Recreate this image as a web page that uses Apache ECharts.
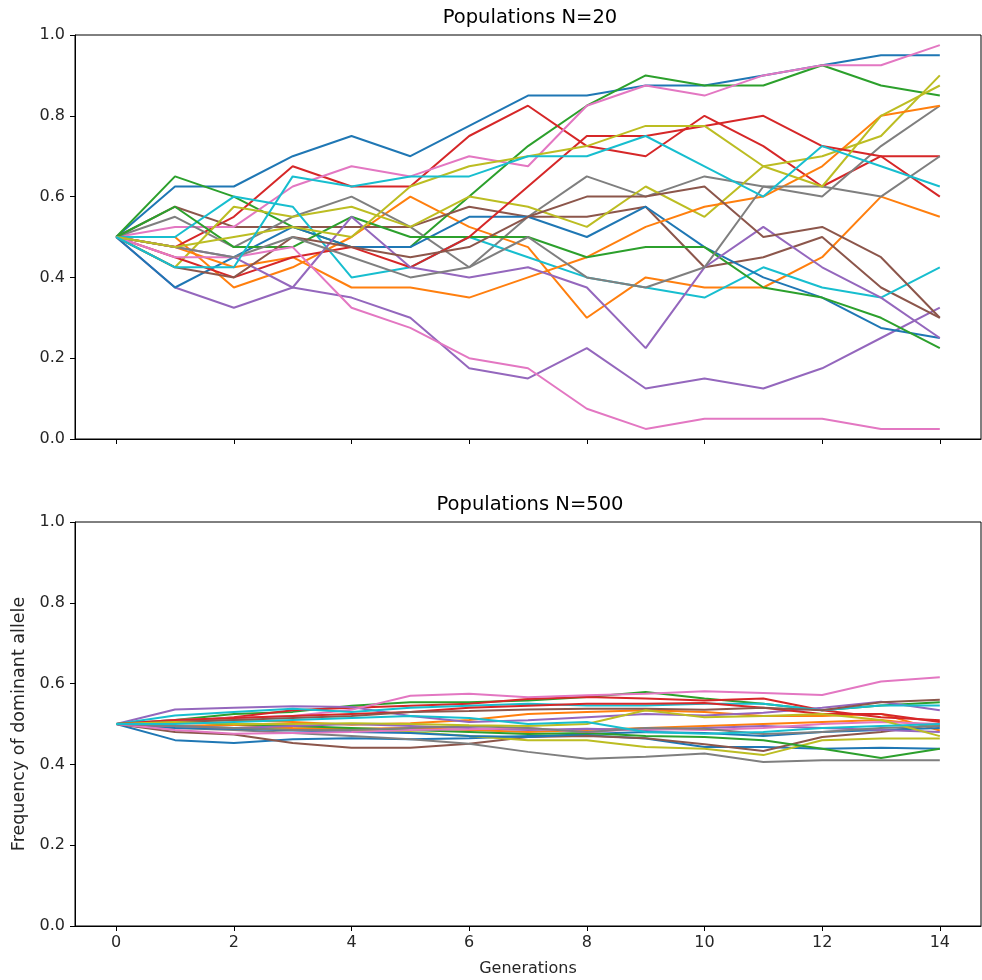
<!DOCTYPE html>
<html>
<head>
<meta charset="utf-8">
<script src="https://cdn.jsdelivr.net/npm/echarts@6/dist/echarts.min.js"></script>
<style>
  html, body { margin: 0; padding: 0; background: #fff; }
  #chart { width: 982px; height: 980px; }
</style>
</head>
<body>
<div id="chart"></div>
<script>
// generations on the x axis
const generations = [0, 1, 2, 3, 4, 5, 6, 7, 8, 9, 10, 11, 12, 13, 14];
const xTicks = [0, 2, 4, 6, 8, 10, 12, 14];
const titles = ['Populations N=20', 'Populations N=500'];

// tab10 colour cycle
const colors = ['#1f77b4', '#ff7f0e', '#2ca02c', '#d62728', '#9467bd',
                '#8c564b', '#e377c2', '#7f7f7f', '#bcbd22', '#17becf'];

// N=20 populations (allele frequency per generation)
const small = [
  [0.5,0.625,0.625,0.7,0.75,0.7,0.775,0.85,0.85,0.875,0.875,0.9,0.925,0.95,0.95],
  [0.5,0.5,0.375,0.425,0.5,0.6,0.525,0.475,0.3,0.4,0.375,0.375,0.45,0.6,0.55],
  [0.5,0.65,0.6,0.525,0.475,0.475,0.6,0.725,0.825,0.9,0.875,0.875,0.925,0.875,0.85],
  [0.5,0.475,0.55,0.675,0.625,0.625,0.75,0.825,0.725,0.7,0.8,0.725,0.625,0.7,0.7],
  [0.5,0.375,0.325,0.375,0.35,0.3,0.175,0.15,0.225,0.125,0.15,0.125,0.175,0.25,0.325],
  [0.5,0.575,0.525,0.525,0.525,0.525,0.575,0.55,0.55,0.575,0.425,0.45,0.5,0.375,0.3],
  [0.5,0.525,0.525,0.625,0.675,0.65,0.7,0.675,0.825,0.875,0.85,0.9,0.925,0.925,0.975],
  [0.5,0.55,0.475,0.55,0.6,0.525,0.425,0.55,0.65,0.6,0.65,0.625,0.6,0.725,0.825],
  [0.5,0.425,0.575,0.55,0.575,0.525,0.6,0.575,0.525,0.625,0.55,0.675,0.7,0.75,0.9],
  [0.5,0.5,0.6,0.575,0.4,0.425,0.5,0.45,0.4,0.375,0.35,0.425,0.375,0.35,0.425],
  [0.5,0.375,0.45,0.525,0.475,0.475,0.55,0.55,0.5,0.575,0.475,0.4,0.35,0.275,0.25],
  [0.5,0.475,0.425,0.45,0.375,0.375,0.35,0.4,0.45,0.525,0.575,0.6,0.675,0.8,0.825],
  [0.5,0.575,0.475,0.475,0.55,0.5,0.5,0.5,0.45,0.475,0.475,0.375,0.35,0.3,0.225],
  [0.5,0.45,0.4,0.45,0.475,0.425,0.5,0.625,0.75,0.75,0.775,0.8,0.725,0.7,0.6],
  [0.5,0.475,0.45,0.375,0.55,0.425,0.4,0.425,0.375,0.225,0.425,0.525,0.425,0.35,0.25],
  [0.5,0.425,0.4,0.5,0.475,0.45,0.475,0.55,0.6,0.6,0.625,0.5,0.525,0.45,0.3],
  [0.5,0.45,0.45,0.475,0.325,0.275,0.2,0.175,0.075,0.025,0.05,0.05,0.05,0.025,0.025],
  [0.5,0.475,0.45,0.5,0.45,0.4,0.425,0.5,0.4,0.375,0.425,0.625,0.625,0.6,0.7],
  [0.5,0.475,0.5,0.525,0.5,0.625,0.675,0.7,0.725,0.775,0.775,0.675,0.625,0.8,0.875],
  [0.5,0.425,0.425,0.65,0.625,0.65,0.65,0.7,0.7,0.75,0.675,0.6,0.725,0.675,0.625]
];

// N=500 populations
const large = [
  [0.5,0.46,0.453,0.462,0.465,0.462,0.465,0.47,0.472,0.464,0.443,0.443,0.439,0.441,0.439],
  [0.5,0.505,0.51,0.505,0.498,0.502,0.51,0.525,0.53,0.534,0.53,0.52,0.52,0.525,0.484],
  [0.5,0.51,0.525,0.53,0.545,0.554,0.554,0.558,0.567,0.579,0.563,0.55,0.534,0.546,0.554],
  [0.5,0.505,0.517,0.534,0.54,0.545,0.55,0.562,0.567,0.563,0.558,0.563,0.534,0.517,0.509],
  [0.5,0.536,0.54,0.544,0.542,0.52,0.505,0.509,0.517,0.525,0.521,0.528,0.54,0.555,0.534],
  [0.5,0.48,0.474,0.453,0.441,0.441,0.451,0.468,0.47,0.465,0.45,0.433,0.468,0.48,0.5],
  [0.5,0.51,0.515,0.52,0.535,0.57,0.575,0.566,0.571,0.575,0.581,0.577,0.572,0.605,0.616],
  [0.5,0.49,0.485,0.478,0.47,0.462,0.451,0.431,0.414,0.419,0.427,0.406,0.41,0.41,0.41],
  [0.5,0.495,0.49,0.488,0.485,0.48,0.47,0.46,0.46,0.443,0.439,0.423,0.46,0.464,0.464],
  [0.5,0.521,0.53,0.538,0.53,0.54,0.545,0.55,0.546,0.546,0.55,0.55,0.534,0.546,0.546],
  [0.5,0.49,0.488,0.484,0.48,0.478,0.47,0.468,0.475,0.48,0.478,0.47,0.48,0.485,0.49],
  [0.5,0.495,0.498,0.49,0.488,0.49,0.485,0.48,0.485,0.49,0.495,0.5,0.505,0.51,0.495],
  [0.5,0.505,0.5,0.495,0.49,0.485,0.48,0.475,0.478,0.47,0.468,0.46,0.439,0.416,0.439],
  [0.5,0.51,0.515,0.52,0.525,0.53,0.54,0.545,0.55,0.55,0.552,0.54,0.525,0.525,0.505],
  [0.5,0.495,0.49,0.495,0.5,0.495,0.49,0.485,0.488,0.485,0.49,0.495,0.49,0.485,0.48],
  [0.5,0.505,0.51,0.515,0.52,0.53,0.532,0.536,0.538,0.538,0.535,0.54,0.534,0.554,0.56],
  [0.5,0.485,0.476,0.478,0.48,0.485,0.487,0.49,0.48,0.488,0.485,0.49,0.5,0.505,0.5],
  [0.5,0.495,0.49,0.485,0.485,0.49,0.495,0.49,0.48,0.49,0.488,0.475,0.48,0.49,0.495],
  [0.5,0.505,0.5,0.5,0.502,0.5,0.497,0.495,0.5,0.534,0.517,0.52,0.525,0.51,0.47],
  [0.5,0.5,0.505,0.51,0.515,0.52,0.515,0.5,0.505,0.48,0.476,0.48,0.49,0.495,0.5]
];

const font = 'DejaVu Sans';
const ink = '#000';
const textInk = '#262626';

function makeX(idx, showLabels) {
  return {
    type: 'value', gridIndex: idx, min: -0.7, max: 14.7,
    splitLine: { show: false },
    axisLine: { show: true, onZero: false, lineStyle: { color: ink, width: 1 } },
    axisTick: { show: true, length: 5, customValues: xTicks, lineStyle: { color: ink, width: 1 } },
    axisLabel: { show: showLabels, customValues: xTicks, margin: 9, color: textInk, fontSize: 16, fontFamily: font },
    name: showLabels ? 'Generations' : '',
    nameLocation: 'middle', nameGap: 35,
    nameTextStyle: { color: textInk, fontSize: 16, fontFamily: font }
  };
}

function makeY(idx, name) {
  return {
    type: 'value', gridIndex: idx, min: 0, max: 1, interval: 0.2,
    splitLine: { show: false },
    axisLine: { show: true, onZero: false, lineStyle: { color: ink, width: 1 } },
    axisTick: { show: true, length: 5, lineStyle: { color: ink, width: 1 } },
    axisLabel: { margin: 10, color: textInk, fontSize: 16, fontFamily: font,
                 formatter: v => v.toFixed(1) },
    name: name, nameLocation: 'middle', nameGap: 46, nameRotate: 90,
    nameTextStyle: { color: textInk, fontSize: 17.5, fontFamily: font }
  };
}

const series = [];
[small, large].forEach((group, g) => {
  group.forEach((vals, i) => {
    series.push({
      type: 'line', xAxisIndex: g, yAxisIndex: g,
      data: generations.map((t, k) => [t, vals[k]]),
      showSymbol: false, symbol: 'none',
      lineStyle: { color: colors[i % 10], width: 2 },
      itemStyle: { color: colors[i % 10] },
      emphasis: { disabled: true },
      z: 2 + i
    });
  });
});

const chart = echarts.init(document.getElementById('chart'));
chart.setOption({
  animation: false,
  backgroundColor: '#fff',
  title: [
    { text: titles[0], left: 530, top: 8, textAlign: 'center', padding: 0,
      textStyle: { fontSize: 19.5, fontWeight: 'normal', color: '#000', fontFamily: font } },
    { text: titles[1], left: 530, top: 495, textAlign: 'center', padding: 0,
      textStyle: { fontSize: 19.5, fontWeight: 'normal', color: '#000', fontFamily: font } }
  ],
  grid: [
    { left: 75, top: 35, width: 906, height: 404, show: true, borderColor: ink, borderWidth: 1 },
    { left: 75, top: 522, width: 906, height: 404, show: true, borderColor: ink, borderWidth: 1 }
  ],
  xAxis: [makeX(0, false), makeX(1, true)],
  yAxis: [makeY(0, ''), makeY(1, 'Frequency of dominant allele')],
  series: series
});
</script>
</body>
</html>
